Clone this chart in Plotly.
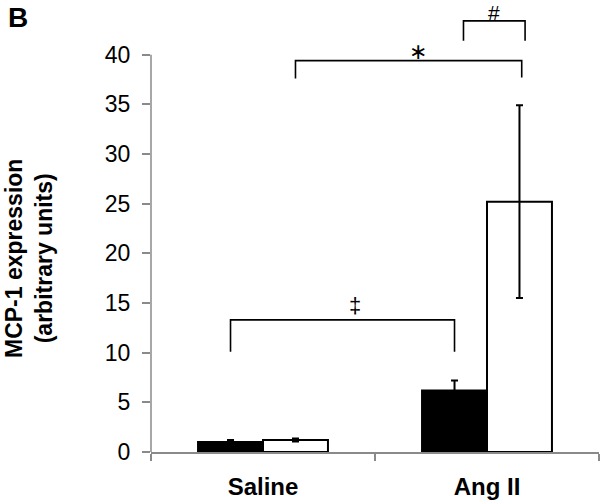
import plotly.graph_objects as go

# ---- data ----
categories = ["Saline", "Ang II"]
black_values = [1.0, 6.2]
black_errors = [0.2, 1.0]
white_values = [1.2, 25.2]
white_errors = [0.15, 9.7]
y_ticks = [0, 5, 10, 15, 20, 25, 30, 35, 40]

# significance brackets: (x_left, x_right, y_top, y_left_end, y_right_end, label, label_x, label_y, size)
brackets = [
    (-0.145, 0.855, 13.3, 10.1, 10.1, "\u2021", 0.41, 14.7, 22),
    (0.145, 1.155, 39.4, 37.6, 37.7, "\u2217", 0.69, 40.3, 22),
    (0.895, 1.17, 43.4, 41.4, 41.4, "#", 1.03, 44.2, 21),
]

AXIS_GRAY = "#8a8a8a"
FONT = "Liberation Sans, Arial, sans-serif"
Y_MAX = 45.5

fig = go.Figure()
fig.add_trace(go.Bar(
    x=categories, y=black_values, name="black",
    marker=dict(color="black", line=dict(color="black", width=2)),
    error_y=dict(type="data", array=black_errors, color="black", thickness=2, width=3.5),
))
fig.add_trace(go.Bar(
    x=categories, y=white_values, name="white",
    marker=dict(color="white", line=dict(color="black", width=2)),
    error_y=dict(type="data", array=white_errors, color="black", thickness=2, width=3.5),
))

shapes = []
annotations = []
for xl, xr, yt, yl, yr, lab, lx, ly, sz in brackets:
    shapes.append(dict(type="path", xref="x", yref="y",
                       path=f"M {xl},{yl} L {xl},{yt} L {xr},{yt} L {xr},{yr}",
                       line=dict(color="black", width=1.6)))
    annotations.append(dict(x=lx, y=ly, xref="x", yref="y", text=lab, showarrow=False,
                            font=dict(family=FONT, size=sz, color="black"), yanchor="middle"))

# y axis line only from 0 to 40
shapes.append(dict(type="line", xref="paper", yref="y", x0=0, x1=0, y0=0, y1=40,
                   line=dict(color=AXIS_GRAY, width=1.5)))

annotations.append(dict(x=-122 / 448, y=0.427, xref="paper", yref="paper",
                        text="<b>MCP-1 expression<br>(arbitrary units)</b>",
                        textangle=-90, showarrow=False, xanchor="center", yanchor="middle",
                        font=dict(family=FONT, size=23, color="black")))
annotations.append(dict(x=-145 / 448, y=1.0, xref="paper", yref="paper", text="<b>B</b>",
                        showarrow=False, xanchor="left", yanchor="top",
                        font=dict(family=FONT, size=28, color="black")))

fig.update_layout(
    width=600, height=502,
    margin=dict(l=151, r=1, t=0, b=50),
    paper_bgcolor="white", plot_bgcolor="white",
    barmode="group", bargap=0.42, bargroupgap=0,
    showlegend=False,
    shapes=shapes, annotations=annotations,
    font=dict(family=FONT, color="black"),
)
fig.update_xaxes(
    type="category", range=[-0.5, 1.5], tickson="boundaries",
    ticks="outside", ticklen=7, tickcolor=AXIS_GRAY, tickwidth=1.5,
    showline=True, linecolor=AXIS_GRAY, linewidth=1.5,
    showgrid=False, zeroline=False,
    tickfont=dict(family=FONT, size=24, color="black", weight="bold"),
    ticklabelstandoff=12,
)
fig.update_yaxes(
    range=[0, Y_MAX], tickvals=y_ticks, ticktext=[str(v) for v in y_ticks],
    ticks="outside", ticklen=8, tickcolor=AXIS_GRAY, tickwidth=1.5,
    showline=False, showgrid=False, zeroline=False,
    tickfont=dict(family=FONT, size=23, color="black"),
    ticklabelstandoff=7,
)

fig.write_html("out.html", config={"displayModeBar": False},
               post_script="document.body.style.margin='0';")
